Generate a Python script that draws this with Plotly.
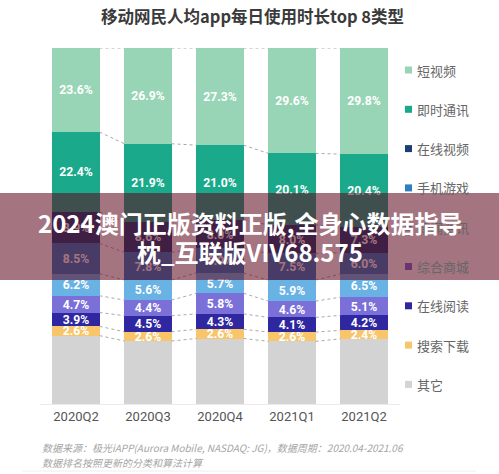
import plotly.graph_objects as go

# ---------------- data ----------------
quarters = ["2020Q2", "2020Q3", "2020Q4", "2021Q1", "2021Q2"]

short_video = [23.6, 26.9, 27.3, 29.6, 29.8]   # 短视频
im = [22.4, 21.9, 21.0, 20.1, 20.4]            # 即时通讯
online_video = [8.9, 8.6, 8.0, 8.0, 7.3]       # 在线视频
mobile_game = [8.5, 7.8, 6.9, 7.5, 6.0]        # 手机游戏
news = [6.2, 5.6, 5.7, 5.9, 6.5]               # 新闻资讯
mall = [4.7, 4.4, 5.8, 4.6, 5.1]               # 综合商城
reading = [3.9, 4.5, 4.3, 4.1, 4.2]            # 在线阅读
search = [2.6, 2.6, 2.6, 2.6, 2.4]             # 搜索下载
other = [19.2, 17.7, 18.4, 17.6, 18.3]         # 其它

# bottom -> top stacking order
series = [
    ("其它", other, "#D3D3D3", False),
    ("搜索下载", search, "#F8C56A", True),
    ("在线阅读", reading, "#2E27A0", True),
    ("综合商城", mall, "#7B6FD8", True),
    ("新闻资讯", news, "#69B2E4", True),
    ("手机游戏", mobile_game, "#2F7EC2", True),
    ("在线视频", online_video, "#1C3E75", True),
    ("即时通讯", im, "#1AAA8B", True),
    ("短视频", short_video, "#98D5B6", True),
]

x = list(range(len(quarters)))
BAR_W = 0.655

fig = go.Figure()

for name, vals, color, show_text in series:
    fig.add_trace(go.Bar(
        x=x, y=vals, name=name, width=BAR_W,
        marker=dict(color=color, line=dict(width=0)),
        texttemplate="%{y:.1f}%" if show_text else "",
        textposition="inside", insidetextanchor="middle",
        textfont=dict(color="white", size=12.5, family="Roboto", weight="bold"),
        showlegend=False, hoverinfo="skip",
    ))

# dashed connectors between segment boundaries
cum = [0.0] * len(quarters)
cx, cy = [], []
for name, vals, color, _ in series:
    cum = [c + v for c, v in zip(cum, vals)]
    for i in range(len(quarters) - 1):
        cx += [x[i] + BAR_W / 2, x[i + 1] - BAR_W / 2, None]
        cy += [cum[i], cum[i + 1], None]
fig.add_trace(go.Scatter(x=cx, y=cy, mode="lines",
                         line=dict(color="#A9A9A9", width=1, dash="3px,3px"),
                         showlegend=False, hoverinfo="skip"))

# ---------------- layout ----------------
W, H = 499, 474
L, R, T, B = 40, 99, 48, 70
PW, PH = W - L - R, H - T - B


def px_y(py):
    return (H - B - py) / PH


def px_x(pxv):
    return (pxv - L) / PW


shapes = []
annotations = []

# manual legend (top -> bottom)
legend_items = list(reversed(series))
for k, (name, vals, color, _) in enumerate(legend_items):
    yc = 70 + 39.3 * k
    shapes.append(dict(type="rect", xref="paper", yref="paper",
                       x0=px_x(405), x1=px_x(412),
                       y0=px_y(yc + 3.5), y1=px_y(yc - 3.5),
                       fillcolor=color, line=dict(width=0), layer="above"))
    annotations.append(dict(text=name, xref="paper", yref="paper",
                            x=px_x(415), y=px_y(yc), xanchor="left", yanchor="middle",
                            showarrow=False,
                            font=dict(size=13, color="#666666",
                                      family="Noto Sans CJK SC")))

# title
annotations.append(dict(text="<b>移动网民人均app每日使用时长top 8类型</b>",
                        xref="paper", yref="paper", x=px_x(252), y=px_y(16),
                        xanchor="center", yanchor="middle", showarrow=False,
                        font=dict(size=16.5, color="#3A3A3A",
                                  family="Noto Sans CJK SC")))

# footer
annotations.append(dict(text="数据来源：极光iAPP(Aurora Mobile, NASDAQ: JG)，数据周期：2020.04-2021.06",
                        xref="paper", yref="paper", x=px_x(40), y=px_y(447),
                        xanchor="left", yanchor="middle", showarrow=False,
                        font=dict(size=10, color="#A5A5A5", style="italic",
                                  family="Noto Sans CJK SC")))
annotations.append(dict(text="数据排名按照更新的分类和算法计算",
                        xref="paper", yref="paper", x=px_x(40), y=px_y(463),
                        xanchor="left", yanchor="middle", showarrow=False,
                        font=dict(size=10, color="#A5A5A5", style="italic",
                                  family="Noto Sans CJK SC")))
shapes.append(dict(type="line", xref="paper", yref="paper",
                   x0=px_x(22), x1=px_x(476), y0=px_y(471), y1=px_y(471),
                   line=dict(color="#EEEEEE", width=1)))

# overlay banner
shapes.append(dict(type="rect", xref="paper", yref="paper",
                   x0=px_x(-5), x1=px_x(505), y0=px_y(280), y1=px_y(193),
                   fillcolor="rgba(92,8,30,0.56)", line=dict(width=0), layer="above"))
annotations.append(dict(text="<b>2024澳门正版资料正版,全身心数据指导</b>",
                        xref="paper", yref="paper", x=px_x(250), y=px_y(222),
                        xanchor="center", yanchor="middle", showarrow=False,
                        font=dict(size=24, color="white", family="Noto Sans CJK SC")))
annotations.append(dict(text="<b>枕_互联版VIV68.575</b>",
                        xref="paper", yref="paper", x=px_x(250), y=px_y(251),
                        xanchor="center", yanchor="middle", showarrow=False,
                        font=dict(size=24, color="white", family="Noto Sans CJK SC")))

fig.update_layout(
    width=W, height=H,
    margin=dict(l=L, r=R, t=T, b=B, pad=0),
    barmode="stack", bargap=0,
    plot_bgcolor="white", paper_bgcolor="white",
    uniformtext=dict(minsize=12, mode="show"),
    xaxis=dict(range=[-0.5, 4.5], tickmode="array", tickvals=x, ticktext=quarters,
               showgrid=False, zeroline=False, showline=True,
               linecolor="#EBEBEB", linewidth=1, ticks="",
               tickfont=dict(size=13, color="#555555", family="Roboto")),
    yaxis=dict(range=[0, 100], visible=False, showgrid=False, zeroline=False),
    shapes=shapes, annotations=annotations,
    showlegend=False,
    hovermode=False,
)

fig.write_html("out.html",
               config={"displayModeBar": False, "staticPlot": True},
               post_script="document.body.style.margin='0';document.body.style.overflow='hidden';")
